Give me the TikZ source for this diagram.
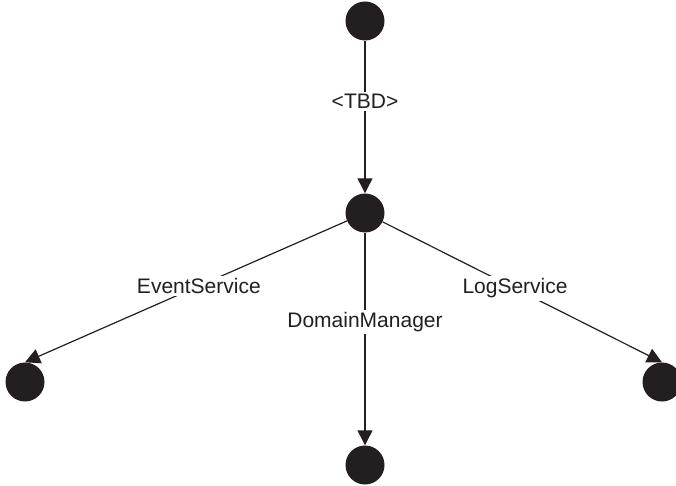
\documentclass[tikz,border=0pt]{standalone}
\usepackage{fontspec}
\setmainfont{Liberation Sans}
\usetikzlibrary{arrows.meta}
\definecolor{ink}{HTML}{231F20}
\begin{document}
\begin{tikzpicture}[x=1pt,y=-1pt,
  state/.style={circle,fill=ink,draw=none,minimum size=39pt,inner sep=0pt},
  edge/.style={draw=ink,line width=1.2pt,-{Triangle[length=15pt,width=15pt]}},
  lbl/.style={fill=white,inner sep=2.5pt,font=\fontsize{21}{25}\selectfont,text=ink}]
  \useasboundingbox (0,0) rectangle (676,486);
  % states
  \node[state] (top) at (365,21) {};
  \node[state] (mid) at (365,213) {};
  \node[state] (left) at (25,382) {};
  \node[state] (bot) at (365,465) {};
  \node[state] (right) at (662,382) {};
  % transitions
  \draw[edge] (top) -- node[lbl,pos=0.40] {<TBD>} (mid);
  \draw[edge] (mid) -- node[lbl,pos=0.46] {EventService} (left.north);
  \draw[edge] (mid) -- node[lbl,pos=0.42] {DomainManager} (bot);
  \draw[edge] (mid) -- node[lbl,pos=0.474] {LogService} (right.north);
\end{tikzpicture}
\end{document}
